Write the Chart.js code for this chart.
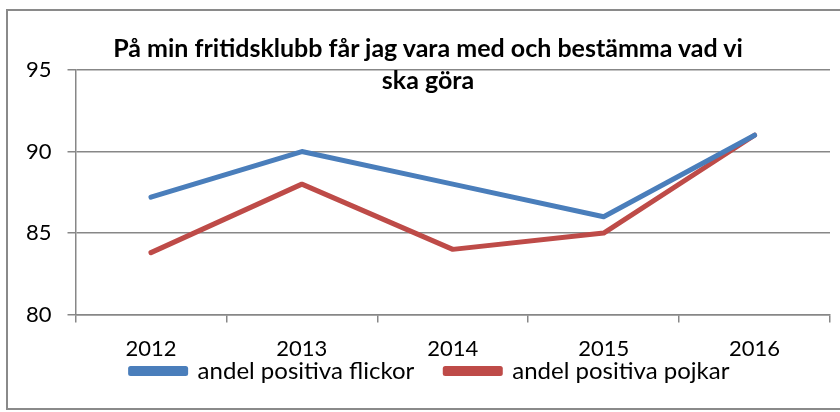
<!DOCTYPE html>
<html>
<head>
<meta charset="utf-8">
<script src="https://cdn.jsdelivr.net/npm/chart.js@4/dist/chart.umd.min.js"></script>
<style>
  html, body { margin: 0; padding: 0; background: #fff; }
  #wrap { position: relative; width: 840px; height: 412px; overflow: hidden; }
  #frame { position: absolute; left: 6px; top: 9px; width: 900px; height: 401px; border: 2px solid #8a8a8a; box-sizing: border-box; }
  #chart { position: absolute; left: 0; top: 0; }
  .title { position: absolute; left: 0; width: 856px; text-align: center; font-family: Lato, sans-serif; font-weight: bold; font-size: 25px; line-height: 30px; color: #000; }
</style>
</head>
<body>
<div id="wrap">
  <div id="frame"></div>
  <canvas id="chart" width="840" height="412"></canvas>
  <div class="title" style="top:32px">På min fritidsklubb får jag vara med och bestämma vad vi</div>
  <div class="title" style="top:64px">ska göra</div>
</div>
<script>
  const years = ["2012", "2013", "2014", "2015", "2016"];
  const flickor = [87.2, 90, 88, 86, 91];
  const pojkar = [83.8, 88, 84, 85, 91];

  const tickFont = { family: "Lato, sans-serif", size: 22 };
  const legendFont = { family: "Lato, sans-serif", size: 24 };
  const gridColor = "#878787";

  // legenden ligger tätt under årtalen, som i Excel-diagrammet
  const legendTweak = {
    id: "legendTweak",
    beforeLayout(chart) {
      const legend = chart.legend;
      if (!legend || legend._tweaked) return;
      const fit = legend.fit;
      legend.fit = function () {
        fit.call(this);
        this.height = 36;
      };
      legend._tweaked = true;
    },
    afterLayout(chart) {
      // flytta bara överkanten, så att klippytan växer
      chart.legend.top -= 47;
      chart.legend.left += 10;
      chart.legend.right += 10;
    },
  };

  new Chart(document.getElementById("chart").getContext("2d"), {
    type: "line",
    data: {
      labels: years,
      datasets: [
        {
          label: "andel positiva flickor",
          data: flickor,
          borderColor: "#4a7ebb",
          backgroundColor: "#4a7ebb",
          borderWidth: 5,
          pointRadius: 0,
          tension: 0,
          borderCapStyle: "round",
          borderJoinStyle: "round",
        },
        {
          label: "andel positiva pojkar",
          data: pojkar,
          borderColor: "#be4b48",
          backgroundColor: "#be4b48",
          borderWidth: 5,
          pointRadius: 0,
          tension: 0,
          borderCapStyle: "round",
          borderJoinStyle: "round",
        },
      ],
    },
    plugins: [legendTweak],
    options: {
      responsive: false,
      animation: false,
      layout: { padding: { left: 10, right: 10, top: 70, bottom: 1 } },
      plugins: {
        title: { display: false },
        tooltip: { enabled: false },
        legend: {
          position: "bottom",
          labels: {
            font: legendFont,
            color: "#000",
            boxWidth: 55,
            boxHeight: 5,
            padding: 31,
          },
        },
      },
      scales: {
        x: {
          offset: true,
          grid: { offset: true, drawOnChartArea: false, drawTicks: true, tickLength: 8, color: gridColor, lineWidth: 1.5 },
          border: { color: gridColor, width: 1.5 },
          ticks: { font: tickFont, color: "#000", padding: 13, maxRotation: 0 },
        },
        y: {
          min: 80,
          max: 95,
          grid: { color: gridColor, lineWidth: 1.5, tickLength: 8 },
          border: { color: gridColor, width: 1.5 },
          ticks: { stepSize: 5, font: tickFont, color: "#000", padding: 16 },
        },
      },
    },
  });
</script>
</body>
</html>
